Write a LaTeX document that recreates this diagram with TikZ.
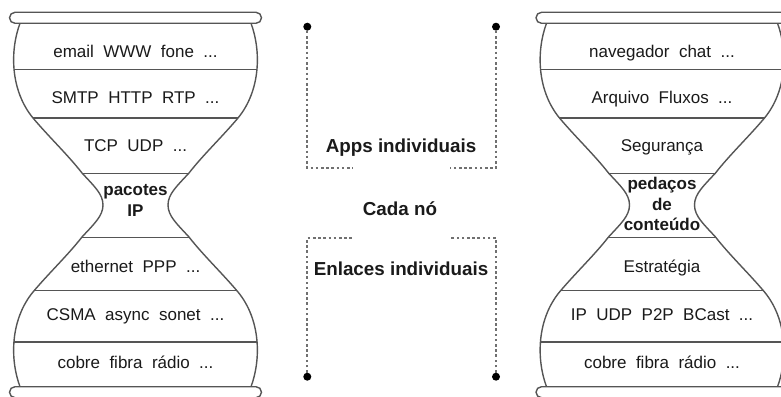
\documentclass[tikz,border=0pt]{standalone}
\usepackage{fontspec}
\setmainfont{Liberation Sans}
\definecolor{edge}{HTML}{555555}
\definecolor{ink}{HTML}{1A1A1A}
\definecolor{dotline}{HTML}{707070}
\newcommand\hgoutline[1]{#1 (-115.5,23.3) .. controls (-125.5,50) and (-125.5,90) .. (-102.5,118)
 .. controls (-86.5,137) and (-67.5,155) .. (-53.5,173)
 .. controls (-41.5,186) and (-32.5,194) .. (-32.5,205)
 .. controls (-32.5,216) and (-41.5,224) .. (-53.5,237)
 .. controls (-67.5,255) and (-86.5,273) .. (-102.5,292)
 .. controls (-125.5,320) and (-125.5,360) .. (-115.5,386.7)
 -- (115.5,386.7)
 .. controls (125.5,360) and (125.5,320) .. (102.5,292)
 .. controls (86.5,273) and (67.5,255) .. (53.5,237)
 .. controls (41.5,224) and (32.5,216) .. (32.5,205)
 .. controls (32.5,194) and (41.5,186) .. (53.5,173)
 .. controls (67.5,155) and (86.5,137) .. (102.5,118)
 .. controls (125.5,90) and (125.5,50) .. (115.5,23.3) -- cycle;}
\tikzset{
  layertext/.style={anchor=base, text=ink, inner sep=0pt, font=\fontsize{17}{20.5}\selectfont},
  necktext/.style={anchor=center, text=ink, inner sep=0pt, align=center, font=\fontsize{17}{20.5}\selectfont\bfseries},
  midtext/.style={anchor=base, text=ink, inner sep=0pt, font=\fontsize{18.8}{22}\selectfont\bfseries},
  divider/.style={draw=edge, line width=1.6pt},
  sideline/.style={draw=edge, line width=1.4pt},
  barbox/.style={draw=edge, fill=white, line width=1.4pt, rounded corners=5.5pt},
  dotnode/.style={circle, fill=black, inner sep=0pt, minimum size=8pt},
  dotted link/.style={draw=dotline, line width=2pt, dash pattern=on 2.6pt off 2.6pt}
}
\begin{document}
\begin{tikzpicture}[x=1pt,y=-1pt]
\useasboundingbox (0,0) rectangle (781,396);
\foreach \cx in {135.5,662}{
  \begin{scope}[shift={(\cx,0)}]
    \hgoutline{\fill[white]}
    \begin{scope}
      \hgoutline{\clip}
      \foreach \yy in {69.3,117.7,173.3,237.3,290.5,341.7}{
        \draw[divider] (-130,\yy) -- (130,\yy);
      }
    \end{scope}
    \draw[sideline] (-115.5,23.3) .. controls (-125.5,50) and (-125.5,90) .. (-102.5,118)
      .. controls (-86.5,137) and (-67.5,155) .. (-53.5,173)
      .. controls (-41.5,186) and (-32.5,194) .. (-32.5,205)
      .. controls (-32.5,216) and (-41.5,224) .. (-53.5,237)
      .. controls (-67.5,255) and (-86.5,273) .. (-102.5,292)
      .. controls (-125.5,320) and (-125.5,360) .. (-115.5,386.7);
    \draw[sideline] (115.5,23.3) .. controls (125.5,50) and (125.5,90) .. (102.5,118)
      .. controls (86.5,137) and (67.5,155) .. (53.5,173)
      .. controls (41.5,186) and (32.5,194) .. (32.5,205)
      .. controls (32.5,216) and (41.5,224) .. (53.5,237)
      .. controls (67.5,255) and (86.5,273) .. (102.5,292)
      .. controls (125.5,320) and (125.5,360) .. (115.5,386.7);
    \draw[barbox] (-126,12.3) rectangle (126,23.3);
    \draw[barbox] (-126,386.7) rectangle (126,397.7);
  \end{scope}
}
% left hourglass texts
\node[layertext] (l1) at (135.5,57.8) {email~~WWW~~fone~~...};
\node[layertext] (l2) at (135.5,103.1) {SMTP~~HTTP~~RTP~~...};
\node[layertext] (l3) at (135.5,151.8) {TCP~~UDP~~...};
\node[necktext] (l4) at (135.5,200.5) {pacotes\\IP};
\node[layertext] (l5) at (135.5,272.1) {ethernet~~PPP~~...};
\node[layertext] (l6) at (135.5,320.1) {CSMA~~async~~sonet~~...};
\node[layertext] (l7) at (135.5,368.8) {cobre~~fibra~~rádio~~...};
% right hourglass texts
\node[layertext] (r1) at (662,57.8) {navegador~~chat~~...};
\node[layertext] (r2) at (662,103.1) {Arquivo~~Fluxos~~...};
\node[layertext] (r3) at (662,151.8) {Segurança};
\node[necktext] (r4) at (662,204.4) {pedaços\\de\\conteúdo};
\node[layertext] (r5) at (662,272.1) {Estratégia};
\node[layertext] (r6) at (662,320.1) {IP~~UDP~~P2P~~BCast~~...};
\node[layertext] (r7) at (662,368.8) {cobre~~fibra~~rádio~~...};
% middle labels
\node[midtext] (apps) at (401,152.5) {Apps individuais};
\node[midtext] (cada) at (400,215) {Cada nó};
\node[midtext] (enl) at (401,275) {Enlaces individuais};
% dotted brackets
\node[dotnode] (dtl) at (307.3,26.7) {};
\node[dotnode] (dtr) at (496,26.7) {};
\node[dotnode] (dbl) at (307.3,376.7) {};
\node[dotnode] (dbr) at (496,376.7) {};
\coordinate (ctl) at (307.3,168);
\coordinate (ctr) at (496,168);
\coordinate (etl) at (353,168);
\coordinate (etr) at (450,168);
\coordinate (cbl) at (307.3,237.7);
\coordinate (cbr) at (496,237.7);
\coordinate (ebl) at (353,237.7);
\coordinate (ebr) at (450,237.7);
\draw[dotted link] (dtl) -- (ctl) -- (etl);
\draw[dotted link] (dtr) -- (ctr) -- (etr);
\draw[dotted link] (dbl) -- (cbl) -- (ebl);
\draw[dotted link] (dbr) -- (cbr) -- (ebr);
\end{tikzpicture}
\end{document}
